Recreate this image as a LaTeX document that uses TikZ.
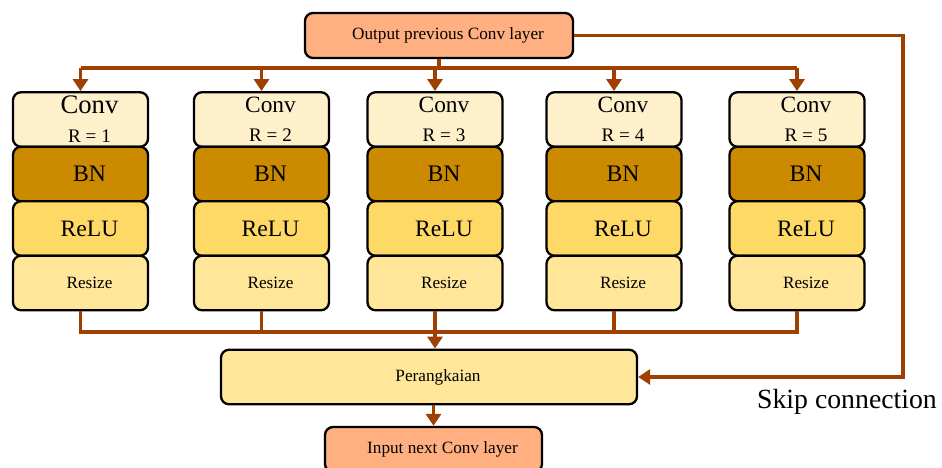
\documentclass[tikz,border=0pt]{standalone}
\usepackage{fontspec}
\setmainfont{Liberation Serif}
\usetikzlibrary{arrows.meta}
\definecolor{flowbrown}{RGB}{160,64,0}
\definecolor{layerfill}{RGB}{255,175,128}
\definecolor{convfill}{RGB}{255,240,204}
\definecolor{bnfill}{RGB}{204,138,0}
\definecolor{relufill}{RGB}{255,217,102}
\definecolor{resizefill}{RGB}{255,230,153}
\newcommand{\pad}{\hspace*{0.36cm}}
\newcommand{\rsize}{\fontsize{10.9pt}{13pt}\selectfont}

\begin{document}
\begin{tikzpicture}[
    box/.style={draw=black, line width=1.3pt, rounded corners=0.16cm, inner sep=0pt,
        minimum width=2.7cm, minimum height=1.09cm, align=center, execute at begin node=\pad},
    convbox/.style={box, fill=convfill, font=\fontsize{13.3pt}{16.4pt}\selectfont},
    bnbox/.style={box, fill=bnfill, font=\fontsize{13.5pt}{16pt}\selectfont},
    relubox/.style={box, fill=relufill, font=\fontsize{13.4pt}{16pt}\selectfont},
    resizebox/.style={box, fill=resizefill, font=\fontsize{9.8pt}{12pt}\selectfont},
    layerbox/.style={box, fill=layerfill, minimum height=0.9cm, font=\fontsize{9.8pt}{12pt}\selectfont},
    wire/.style={draw=flowbrown, line width=1.9pt},
    flow/.style={wire, -{Triangle[length=0.24cm,width=0.3cm]}}
]
            \clip (0,0) rectangle (18.84,-9.36);

            \node[layerbox, minimum width=5.36cm] (prev) at (8.78,-0.71) {Output previous Conv layer};

            % branch R = 1
            \node[convbox] (conv1) at (1.61,-2.39) {{\fontsize{15.2pt}{16.4pt}\selectfont Conv}\\{\rsize R = 1}};
            \node[bnbox] (bn1) at (1.61,-3.48) {BN};
            \node[relubox] (relu1) at (1.61,-4.57) {ReLU};
            \node[resizebox] (resize1) at (1.61,-5.66) {Resize};

            % branch R = 2
            \node[convbox] (conv2) at (5.23,-2.39) {Conv\\{\rsize R = 2}};
            \node[bnbox] (bn2) at (5.23,-3.48) {BN};
            \node[relubox] (relu2) at (5.23,-4.57) {ReLU};
            \node[resizebox] (resize2) at (5.23,-5.66) {Resize};

            % branch R = 3
            \node[convbox] (conv3) at (8.70,-2.39) {Conv\\{\rsize R = 3}};
            \node[bnbox] (bn3) at (8.70,-3.48) {BN};
            \node[relubox] (relu3) at (8.70,-4.57) {ReLU};
            \node[resizebox] (resize3) at (8.70,-5.66) {Resize};

            % branch R = 4
            \node[convbox] (conv4) at (12.28,-2.39) {Conv\\{\rsize R = 4}};
            \node[bnbox] (bn4) at (12.28,-3.48) {BN};
            \node[relubox] (relu4) at (12.28,-4.57) {ReLU};
            \node[resizebox] (resize4) at (12.28,-5.66) {Resize};

            % branch R = 5
            \node[convbox] (conv5) at (15.94,-2.39) {Conv\\{\rsize R = 5}};
            \node[bnbox] (bn5) at (15.94,-3.48) {BN};
            \node[relubox] (relu5) at (15.94,-4.57) {ReLU};
            \node[resizebox] (resize5) at (15.94,-5.66) {Resize};

            \node[resizebox, minimum width=8.32cm] (concat) at (8.58,-7.54) {Perangkaian};
            \node[layerbox, minimum width=4.34cm] (next) at (8.67,-8.99) {Input next Conv layer};
            \node[font=\fontsize{15.8pt}{18pt}\selectfont] (skiplabel) at (16.94,-8.03) {Skip connection};

            % fan out to the five branches
            \coordinate (split) at (8.78,-1.36);
            \draw[wire] (prev.south) -- (split);
            \draw[wire] (split -| conv1.north) -- (split -| conv5.north);
            \draw[flow] (split -| conv1.north) -- (conv1.north);
            \draw[flow] (split -| conv2.north) -- (conv2.north);
            \draw[flow] (split -| conv3.north) -- (conv3.north);
            \draw[flow] (split -| conv4.north) -- (conv4.north);
            \draw[flow] (split -| conv5.north) -- (conv5.north);

            % join the branches
            \coordinate (merge) at (8.70,-6.64);
            \draw[wire] (resize1.south) -- (resize1.south |- merge) -- (resize5.south |- merge) -- (resize5.south);
            \draw[wire] (resize2.south) -- (resize2.south |- merge);
            \draw[wire] (resize4.south) -- (resize4.south |- merge);
            \draw[flow] (resize3.south) -- (concat.north -| resize3.south);
            \draw[flow] (concat.south -| next.north) -- (next.north);

            % skip connection
            \coordinate (skip) at (18.06,-0.71);
            \draw[flow] (prev.east) -- (skip) -- (skip |- concat.east) -- (concat.east);
\end{tikzpicture}
\end{document}
